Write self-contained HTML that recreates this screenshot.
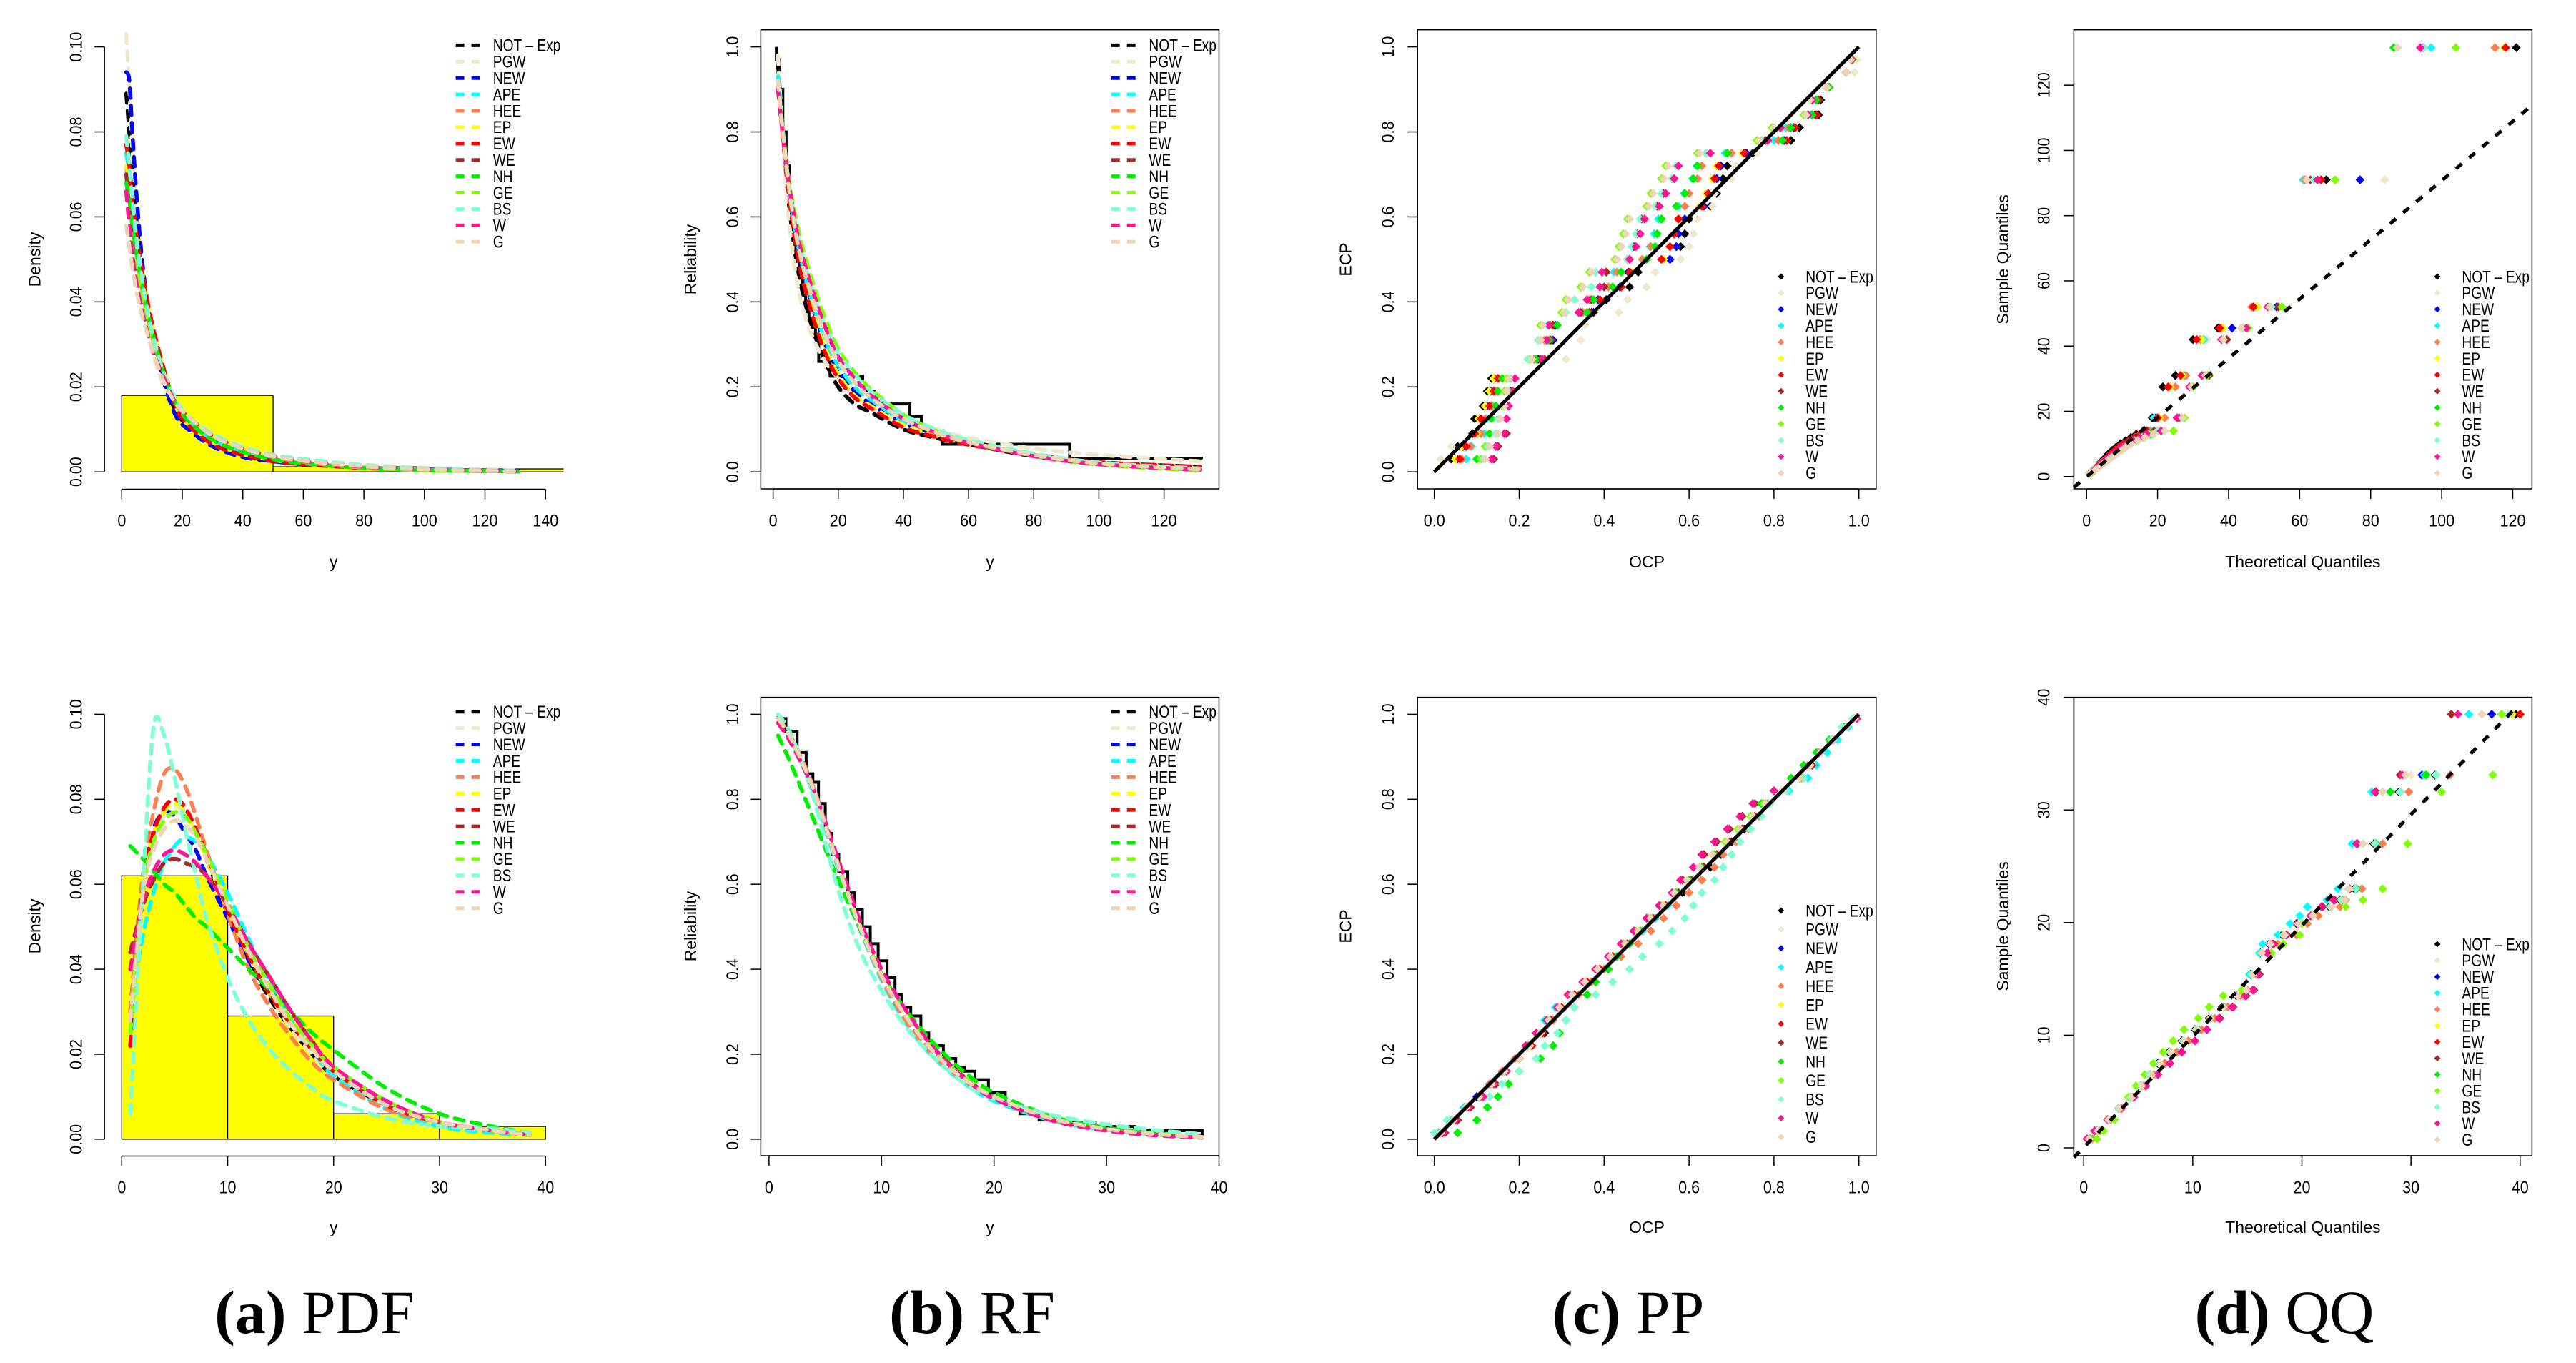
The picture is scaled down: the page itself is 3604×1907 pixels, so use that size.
<!DOCTYPE html>
<html><head><meta charset="utf-8"><title>Fitted distributions</title>
<style>html,body{margin:0;padding:0;background:#fff}svg{display:block}text{font-family:"Liberation Sans",sans-serif}</style>
</head><body>
<svg id="fig" xmlns="http://www.w3.org/2000/svg" width="3604" height="1907" viewBox="0 0 3604 1907">
<defs><clipPath id="clipA"><rect x="147" y="30" width="641.5" height="1650"/></clipPath></defs>
<g id="layer"></g>
<g font-size="86" text-anchor="middle">
<text x="440" y="1865" style="font-family:'Liberation Serif',serif"><tspan font-weight="bold">(a)</tspan> PDF</text>
<text x="1360" y="1865" style="font-family:'Liberation Serif',serif"><tspan font-weight="bold">(b)</tspan> RF</text>
<text x="2278" y="1865" style="font-family:'Liberation Serif',serif"><tspan font-weight="bold">(c)</tspan> PP</text>
<text x="3196" y="1865" style="font-family:'Liberation Serif',serif"><tspan font-weight="bold">(d)</tspan> QQ</text>
</g>
</svg>
<script>
// ---------- shared series info ----------
const seriesNames = ['NOT \u2013 Exp','PGW','NEW','APE','HEE','EP','EW','WE','NH','GE','BS','W','G'];
const seriesColors = ['#000000','#EEE8CD','#0000FF','#00FFFF','#FF7F50','#FFFF00','#FF0000','#A52A2A','#00EE00','#7FFF00','#7FFFD4','#FF1493','#EED5B7'];

// ---------- (a) top: density ----------
const aTopHistEdges = [0,50,100,150];
const aTopHistDensity = [0.018,0.0012,0.0007];
const aTopX = [1.5,2.5,3.5,5,7,10,14,18,22,30,40,50,60,80,100,131];
const aTop_NOT = [0.089,0.08,0.07,0.058,0.046,0.034,0.022,0.014,0.011,0.0065,0.004,0.0025,0.0018,0.001,0.0006,0.0002];
const aTop_PGW = [0.103,0.09,0.075,0.058,0.043,0.029,0.02,0.016,0.013,0.009,0.006,0.004,0.003,0.0017,0.001,0.0004];
const aTop_NEW = [0.094,0.092,0.08,0.064,0.048,0.033,0.021,0.013,0.01,0.006,0.0035,0.0025,0.0018,0.001,0.0006,0.0002];
const aTop_APE = [0.075,0.07,0.062,0.053,0.044,0.033,0.023,0.016,0.012,0.0075,0.0045,0.003,0.002,0.001,0.0005,0.0001];
const aTop_HEE = [0.072,0.066,0.059,0.051,0.042,0.032,0.023,0.016,0.012,0.0075,0.0045,0.003,0.002,0.001,0.0005,0.0001];
const aTop_EP = [0.072,0.069,0.063,0.055,0.046,0.035,0.024,0.016,0.012,0.007,0.0042,0.0028,0.0019,0.0009,0.0004,0.0001];
const aTop_EW = [0.077,0.072,0.064,0.055,0.046,0.035,0.024,0.015,0.011,0.0065,0.004,0.0026,0.0018,0.0009,0.0004,0.0001];
const aTop_WE = [0.07,0.062,0.054,0.046,0.038,0.029,0.022,0.016,0.013,0.0085,0.0055,0.0036,0.0024,0.0011,0.0005,0.0001];
const aTop_NH = [0.068,0.064,0.058,0.051,0.043,0.033,0.023,0.016,0.012,0.0075,0.0047,0.003,0.002,0.0009,0.0004,0.0001];
const aTop_GE = [0.058,0.056,0.052,0.047,0.04,0.031,0.022,0.016,0.013,0.0085,0.0055,0.0036,0.0024,0.001,0.0004,0.0001];
const aTop_BS = [0.079,0.072,0.064,0.054,0.044,0.033,0.023,0.017,0.013,0.009,0.0058,0.004,0.003,0.0016,0.0008,0.0002];
const aTop_W = [0.066,0.058,0.051,0.044,0.037,0.029,0.022,0.016,0.013,0.0085,0.0055,0.0037,0.0025,0.0012,0.0006,0.0001];
const aTop_G = [0.058,0.053,0.048,0.042,0.036,0.029,0.021,0.016,0.013,0.0085,0.0055,0.0037,0.0026,0.0013,0.0006,0.0001];
const aTopXTicks = [0,20,40,60,80,100,120,140];
const aTopYTicks = [0,0.02,0.04,0.06,0.08,0.10];
const aTopYLabels = ['0.00','0.02','0.04','0.06','0.08','0.10'];

// ---------- (a) bottom ----------
const aBotHistEdges = [0,10,20,30,40];
const aBotHistDensity = [0.062,0.029,0.006,0.003];
const aBotX = [0.8,2,3,4,5,6,7,8,10,12,14,16,18,20,25,30,35,38.5];
const aBot_NOT = [0.022,0.06,0.072,0.078,0.08,0.078,0.072,0.066,0.053,0.042,0.033,0.026,0.02,0.015,0.008,0.004,0.002,0.001];
const aBot_PGW = [0.028,0.058,0.07,0.076,0.078,0.077,0.072,0.066,0.054,0.043,0.034,0.026,0.02,0.015,0.008,0.004,0.002,0.001];
const aBot_NEW = [0.03,0.062,0.073,0.077,0.076,0.072,0.068,0.062,0.052,0.042,0.034,0.027,0.021,0.016,0.008,0.004,0.002,0.001];
const aBot_APE = [0.03,0.048,0.058,0.065,0.069,0.071,0.07,0.067,0.058,0.047,0.037,0.028,0.021,0.015,0.007,0.003,0.0015,0.001];
const aBot_HEE = [0.03,0.062,0.077,0.086,0.087,0.083,0.076,0.068,0.053,0.04,0.031,0.024,0.018,0.014,0.007,0.004,0.002,0.001];
const aBot_EP = [0.025,0.06,0.072,0.077,0.079,0.077,0.072,0.066,0.054,0.043,0.034,0.027,0.021,0.016,0.008,0.004,0.002,0.001];
const aBot_EW = [0.022,0.06,0.072,0.078,0.08,0.078,0.073,0.067,0.054,0.043,0.034,0.027,0.021,0.016,0.008,0.004,0.002,0.001];
const aBot_WE = [0.044,0.055,0.061,0.065,0.066,0.065,0.064,0.062,0.055,0.046,0.038,0.03,0.023,0.017,0.008,0.004,0.002,0.001];
const aBot_NH = [0.069,0.066,0.063,0.06,0.058,0.055,0.052,0.05,0.045,0.04,0.035,0.03,0.025,0.021,0.012,0.006,0.003,0.0015];
const aBot_GE = [0.025,0.058,0.07,0.075,0.077,0.076,0.072,0.067,0.056,0.045,0.036,0.028,0.022,0.017,0.009,0.004,0.002,0.001];
const aBot_BS = [0.006,0.06,0.097,0.095,0.085,0.073,0.062,0.052,0.038,0.028,0.021,0.016,0.012,0.009,0.005,0.003,0.0025,0.0015];
const aBot_W = [0.04,0.056,0.063,0.067,0.068,0.067,0.065,0.062,0.055,0.046,0.038,0.03,0.023,0.017,0.009,0.004,0.002,0.001];
const aBot_G = [0.028,0.058,0.068,0.073,0.075,0.074,0.071,0.066,0.055,0.044,0.035,0.027,0.021,0.016,0.008,0.004,0.002,0.001];
const aBotXTicks = [0,10,20,30,40];

// ---------- (b) top: reliability ----------
const bTopX = [1.5,3,5,8,12,16,20,25,30,40,50,60,80,100,131];
const bTop_NOT = [0.96,0.8,0.62,0.46,0.34,0.26,0.2,0.16,0.14,0.1,0.08,0.065,0.037,0.022,0.012];
const bTop_PGW = [0.98,0.78,0.58,0.42,0.32,0.26,0.22,0.18,0.15,0.12,0.1,0.08,0.055,0.04,0.025];
const bTop_NEW = [0.93,0.8,0.65,0.51,0.39,0.3,0.24,0.19,0.16,0.115,0.088,0.067,0.04,0.021,0.007];
const bTop_APE = [0.93,0.8,0.66,0.52,0.4,0.31,0.25,0.2,0.17,0.12,0.09,0.068,0.038,0.018,0.004];
const bTop_HEE = [0.92,0.79,0.64,0.5,0.38,0.29,0.23,0.18,0.155,0.11,0.085,0.065,0.04,0.022,0.01];
const bTop_EP = [0.92,0.79,0.64,0.5,0.38,0.29,0.23,0.18,0.155,0.11,0.085,0.065,0.04,0.022,0.01];
const bTop_EW = [0.92,0.79,0.64,0.49,0.37,0.28,0.22,0.175,0.15,0.105,0.082,0.064,0.04,0.023,0.012];
const bTop_WE = [0.9,0.8,0.68,0.55,0.44,0.35,0.28,0.23,0.19,0.13,0.095,0.07,0.04,0.018,0.004];
const bTop_NH = [0.92,0.8,0.66,0.52,0.41,0.32,0.26,0.21,0.175,0.125,0.092,0.069,0.039,0.019,0.005];
const bTop_GE = [0.9,0.8,0.68,0.56,0.45,0.36,0.29,0.235,0.195,0.135,0.097,0.07,0.038,0.017,0.003];
const bTop_BS = [0.92,0.8,0.67,0.54,0.43,0.34,0.28,0.23,0.19,0.135,0.1,0.075,0.043,0.022,0.008];
const bTop_W = [0.9,0.79,0.67,0.54,0.43,0.34,0.27,0.22,0.18,0.125,0.092,0.068,0.037,0.018,0.005];
const bTop_G = [0.92,0.8,0.66,0.52,0.41,0.32,0.26,0.21,0.175,0.125,0.093,0.07,0.04,0.02,0.006];
const bTopStepX = [1,2,3,4,5,6,7,8,9,10,11,12,13,14,17.5,27.5,31,42,45.5,52,91,131.5];
const bTopStepY = [0.97,0.9,0.8,0.72,0.64,0.57,0.51,0.46,0.42,0.39,0.36,0.34,0.32,0.26,0.225,0.19,0.16,0.13,0.097,0.065,0.032,0.03];
const bTopXTicks = [0,20,40,60,80,100,120];
const bYTicks = [0,0.2,0.4,0.6,0.8,1.0];
const bYLabels = ['0.0','0.2','0.4','0.6','0.8','1.0'];

// ---------- (b) bottom ----------
const bBotX = [0.8,2,4,6,8,10,12,14,16,18,20,25,30,35,38.5];
const bBot_NOT = [0.99,0.94,0.82,0.65,0.5,0.38,0.29,0.22,0.17,0.13,0.1,0.05,0.025,0.012,0.006];
const bBot_PGW = [0.99,0.94,0.82,0.655,0.505,0.385,0.295,0.225,0.17,0.13,0.1,0.05,0.024,0.011,0.005];
const bBot_NEW = [0.99,0.94,0.82,0.655,0.505,0.385,0.295,0.225,0.172,0.13,0.099,0.049,0.024,0.011,0.005];
const bBot_APE = [0.99,0.94,0.81,0.65,0.5,0.375,0.28,0.21,0.16,0.12,0.09,0.045,0.022,0.01,0.005];
const bBot_HEE = [0.99,0.945,0.825,0.66,0.505,0.38,0.285,0.215,0.165,0.126,0.097,0.048,0.024,0.011,0.005];
const bBot_EP = [0.99,0.94,0.82,0.655,0.505,0.385,0.295,0.225,0.17,0.13,0.1,0.05,0.024,0.011,0.005];
const bBot_EW = [0.99,0.94,0.82,0.655,0.505,0.385,0.295,0.225,0.17,0.13,0.1,0.05,0.024,0.011,0.005];
const bBot_WE = [0.98,0.93,0.82,0.67,0.52,0.4,0.31,0.235,0.178,0.133,0.097,0.046,0.021,0.009,0.004];
const bBot_NH = [0.95,0.88,0.75,0.62,0.5,0.39,0.31,0.245,0.19,0.145,0.11,0.055,0.027,0.012,0.005];
const bBot_GE = [0.99,0.94,0.82,0.66,0.51,0.39,0.3,0.23,0.175,0.133,0.1,0.049,0.023,0.01,0.004];
const bBot_BS = [1.0,0.95,0.8,0.6,0.45,0.35,0.27,0.21,0.16,0.12,0.095,0.058,0.035,0.02,0.012];
const bBot_W = [0.98,0.93,0.82,0.67,0.52,0.4,0.31,0.235,0.175,0.13,0.095,0.045,0.02,0.008,0.004];
const bBot_G = [0.99,0.94,0.82,0.655,0.505,0.385,0.295,0.225,0.17,0.13,0.1,0.05,0.024,0.011,0.005];
const bBotStepX = [0.8,1.5,2.5,3.3,3.9,4.4,5,5.6,6.2,7,7.6,8.3,9,9.7,10.5,11.2,11.8,12.6,13.5,14.2,15.5,16.6,17.4,18.3,19.5,21,22.3,24,26.5,29,32.5,38.5];
const bBotStepY = [0.99,0.96,0.91,0.86,0.84,0.79,0.72,0.67,0.63,0.58,0.54,0.5,0.46,0.42,0.38,0.34,0.31,0.29,0.25,0.22,0.19,0.17,0.16,0.14,0.11,0.08,0.06,0.045,0.04,0.03,0.02,0.01];
const bBotXTicks = [0,10,20,30,40];

// ---------- (c) top: PP ----------
const cTopECP = [0.03,0.06,0.09,0.125,0.155,0.19,0.22,0.265,0.31,0.345,0.375,0.405,0.435,0.47,0.5,0.53,0.56,0.595,0.625,0.655,0.69,0.72,0.75,0.78,0.81,0.84,0.875,0.905,0.94,0.97];
const cTop_NOT = [0.04,0.055,0.09,0.095,0.115,0.125,0.135,0.245,0.275,0.285,0.375,0.405,0.46,0.48,0.555,0.58,0.59,0.6,0.65,0.665,0.68,0.69,0.75,0.84,0.86,0.905,0.91,0.93,0.97,0.985];
const cTop_PGW = [0.015,0.04,0.11,0.15,0.16,0.17,0.18,0.31,0.345,0.355,0.435,0.455,0.5,0.52,0.58,0.6,0.61,0.62,0.655,0.66,0.7,0.71,0.76,0.8,0.82,0.87,0.89,0.92,0.99,0.995];
const cTop_NEW = [0.054,0.068,0.101,0.106,0.124,0.133,0.142,0.25,0.28,0.285,0.37,0.386,0.437,0.457,0.555,0.57,0.575,0.59,0.635,0.645,0.665,0.675,0.735,0.824,0.847,0.898,0.905,0.929,0.97,0.984];
const cTop_APE = [0.075,0.088,0.118,0.123,0.138,0.17,0.19,0.235,0.26,0.268,0.345,0.375,0.42,0.423,0.49,0.508,0.518,0.528,0.575,0.588,0.608,0.618,0.685,0.8,0.828,0.888,0.898,0.928,0.97,0.983];
const cTop_HEE = [0.065,0.085,0.11,0.12,0.135,0.145,0.15,0.235,0.26,0.27,0.35,0.365,0.41,0.43,0.49,0.51,0.525,0.535,0.59,0.6,0.62,0.63,0.7,0.81,0.835,0.89,0.9,0.93,0.97,0.985];
const cTop_EP = [0.05,0.065,0.1,0.105,0.12,0.13,0.14,0.24,0.265,0.275,0.36,0.39,0.44,0.465,0.54,0.555,0.565,0.575,0.625,0.64,0.655,0.665,0.725,0.83,0.85,0.9,0.905,0.93,0.97,0.984];
const cTop_EW = [0.06,0.075,0.095,0.11,0.13,0.14,0.15,0.26,0.27,0.28,0.365,0.39,0.44,0.46,0.535,0.555,0.565,0.575,0.63,0.645,0.66,0.67,0.73,0.83,0.85,0.9,0.905,0.93,0.97,0.984];
const cTop_WE = [0.14,0.15,0.17,0.17,0.175,0.18,0.18,0.25,0.275,0.28,0.345,0.37,0.4,0.405,0.455,0.47,0.478,0.488,0.525,0.54,0.56,0.57,0.64,0.78,0.815,0.88,0.89,0.925,0.97,0.982];
const cTop_NH = [0.1,0.12,0.13,0.135,0.145,0.15,0.16,0.24,0.27,0.29,0.36,0.375,0.42,0.44,0.5,0.52,0.525,0.535,0.57,0.59,0.61,0.62,0.69,0.82,0.84,0.89,0.9,0.93,0.97,0.984];
const cTop_GE = [0.11,0.12,0.145,0.15,0.16,0.165,0.17,0.225,0.245,0.25,0.3,0.31,0.345,0.365,0.425,0.435,0.445,0.455,0.5,0.51,0.535,0.545,0.62,0.76,0.795,0.87,0.885,0.925,0.97,0.98];
const cTop_BS = [0.115,0.125,0.145,0.15,0.165,0.175,0.18,0.22,0.245,0.255,0.31,0.33,0.37,0.38,0.455,0.465,0.475,0.485,0.52,0.535,0.56,0.57,0.64,0.77,0.8,0.875,0.89,0.925,0.97,0.982];
const cTop_W = [0.135,0.145,0.165,0.17,0.175,0.185,0.19,0.255,0.265,0.27,0.34,0.36,0.39,0.395,0.46,0.475,0.485,0.495,0.53,0.545,0.565,0.575,0.65,0.785,0.815,0.88,0.89,0.925,0.97,0.982];
const cTop_G = [0.12,0.13,0.15,0.155,0.165,0.17,0.175,0.23,0.25,0.255,0.305,0.315,0.35,0.37,0.43,0.44,0.45,0.46,0.505,0.515,0.54,0.55,0.625,0.765,0.8,0.875,0.885,0.925,0.97,0.98];
const cXTicks = [0,0.2,0.4,0.6,0.8,1.0];
const cXLabels = ['0.0','0.2','0.4','0.6','0.8','1.0'];

// ---------- (c) bottom ----------
const cBotECP = [0.015,0.045,0.075,0.1,0.13,0.16,0.19,0.22,0.25,0.28,0.31,0.34,0.37,0.4,0.43,0.46,0.49,0.52,0.55,0.58,0.61,0.64,0.67,0.7,0.73,0.76,0.79,0.82,0.85,0.88,0.91,0.94,0.97,0.99];
const cBot_NOT = [0.01,0.04,0.07,0.1,0.13,0.16,0.2,0.23,0.26,0.275,0.3,0.33,0.36,0.39,0.42,0.46,0.49,0.52,0.545,0.585,0.63,0.65,0.675,0.7,0.73,0.755,0.775,0.82,0.865,0.89,0.905,0.935,0.965,0.99];
const cBot_PGW = [0.01,0.04,0.075,0.105,0.135,0.165,0.2,0.225,0.25,0.27,0.295,0.33,0.36,0.385,0.42,0.45,0.48,0.51,0.54,0.57,0.6,0.63,0.66,0.69,0.72,0.75,0.78,0.82,0.86,0.885,0.91,0.94,0.97,0.99];
const cBot_NEW = [0.01,0.04,0.07,0.1,0.13,0.165,0.2,0.23,0.255,0.275,0.3,0.33,0.36,0.39,0.42,0.455,0.485,0.515,0.545,0.575,0.605,0.635,0.665,0.695,0.725,0.755,0.78,0.82,0.865,0.89,0.91,0.94,0.97,0.99];
const cBot_APE = [0.01,0.04,0.07,0.11,0.14,0.17,0.2,0.22,0.24,0.26,0.285,0.32,0.35,0.385,0.42,0.455,0.49,0.52,0.55,0.575,0.6,0.63,0.66,0.69,0.72,0.755,0.79,0.835,0.88,0.9,0.925,0.95,0.975,0.995];
const cBot_HEE = [0.02,0.05,0.08,0.11,0.13,0.16,0.19,0.22,0.25,0.28,0.3,0.34,0.37,0.4,0.44,0.48,0.51,0.54,0.57,0.6,0.63,0.66,0.68,0.71,0.74,0.765,0.785,0.82,0.86,0.88,0.905,0.935,0.965,0.99];
const cBot_EP = [0.015,0.045,0.075,0.105,0.135,0.165,0.2,0.23,0.255,0.275,0.3,0.33,0.36,0.39,0.42,0.455,0.485,0.515,0.545,0.575,0.605,0.635,0.665,0.695,0.725,0.755,0.78,0.82,0.865,0.89,0.91,0.94,0.97,0.99];
const cBot_EW = [0.015,0.045,0.075,0.105,0.135,0.165,0.2,0.23,0.255,0.275,0.3,0.33,0.36,0.39,0.42,0.455,0.485,0.515,0.545,0.575,0.605,0.635,0.665,0.695,0.725,0.755,0.78,0.82,0.865,0.89,0.91,0.94,0.97,0.99];
const cBot_WE = [0.025,0.055,0.085,0.115,0.145,0.17,0.2,0.215,0.24,0.265,0.29,0.315,0.35,0.38,0.41,0.44,0.47,0.5,0.53,0.56,0.585,0.61,0.635,0.665,0.695,0.725,0.755,0.8,0.86,0.885,0.91,0.94,0.97,0.995];
const cBot_NH = [0.055,0.1,0.125,0.15,0.175,0.2,0.25,0.28,0.295,0.31,0.33,0.36,0.38,0.41,0.43,0.46,0.485,0.51,0.54,0.57,0.6,0.63,0.66,0.69,0.72,0.745,0.77,0.8,0.84,0.87,0.9,0.93,0.965,0.99];
const cBot_GE = [0.015,0.045,0.075,0.105,0.135,0.165,0.2,0.225,0.25,0.27,0.295,0.325,0.355,0.385,0.415,0.445,0.475,0.505,0.535,0.565,0.595,0.625,0.655,0.685,0.715,0.745,0.775,0.82,0.865,0.885,0.91,0.94,0.97,0.99];
const cBot_BS = [0.0,0.03,0.08,0.13,0.16,0.2,0.24,0.26,0.29,0.31,0.33,0.38,0.42,0.46,0.49,0.53,0.56,0.59,0.61,0.63,0.66,0.68,0.7,0.72,0.745,0.77,0.79,0.83,0.87,0.885,0.91,0.935,0.96,0.985];
const cBot_W = [0.02,0.05,0.08,0.115,0.14,0.17,0.2,0.215,0.24,0.265,0.29,0.315,0.35,0.38,0.41,0.44,0.47,0.5,0.53,0.56,0.58,0.61,0.63,0.66,0.69,0.72,0.75,0.8,0.86,0.885,0.91,0.94,0.97,0.995];
const cBot_G = [0.015,0.045,0.075,0.105,0.135,0.165,0.2,0.225,0.25,0.27,0.295,0.325,0.355,0.385,0.415,0.45,0.48,0.51,0.54,0.565,0.595,0.625,0.655,0.69,0.72,0.75,0.78,0.82,0.86,0.885,0.91,0.94,0.97,0.99];

// ---------- (d) top: QQ ----------
const dTopSample = [1,2,3,4,5,6,7,8,9,10,11,12,13,14,18,27.5,31,42,45.5,52,91,131.5];
const dTop_NOT = [1,1.8,2.8,3.6,4.5,5.5,6.2,7.2,8.3,9.5,11,12.5,14,16,18.5,21.5,25,30,37,48,67.5,121];
const dTop_PGW = [0.5,1.5,2.7,3.8,5,6,7.5,8.5,9.5,10.5,12,13.5,15,17.5,26,29.5,33,34,44,57,84,87.5];
const dTop_NEW = [1,2,3,4,5,6,7,8,9.3,10.5,12,13.5,15,17,19.5,23.5,27.5,33,41,53.5,77,94.5];
const dTop_APE = [1,2,3,4,5,6,7,8.5,9.5,11,12.5,14,15.5,18,19,23,27.5,33,38,47,61,97];
const dTop_HEE = [1,2,3,4,5,6,7,8.5,9.5,11,12.5,14,15.5,17.5,22,25,28,32,38,46.5,61.5,115];
const dTop_EP = [1,2,3,4,5,6,7,8,9,10.5,12,13.5,15,17,20.5,23.5,27,32.5,38.5,48,66,117.5];
const dTop_EW = [1,2,3,4,5,6,7,8,9,10.5,12,13.5,15,17,20,23,26.5,31,37.5,47,66,118];
const dTop_WE = [1,2.5,3.5,4.5,5.5,6.5,7.5,9,10,11.5,13,14.5,16.5,19,26,30,34.5,39.5,45.5,54,63,95];
const dTop_NH = [1.2,2.5,3.5,4.5,5.5,6.5,8,9,10.5,12,13.5,15.5,18,21,27.5,30,34,38.5,45.5,55,70,86.5];
const dTop_GE = [1.2,2.5,3.5,4.8,6,7.2,8.5,9.8,11,12.5,14,16,18.5,24.5,27.5,30,34,38.5,45.5,55,70,104];
const dTop_BS = [1,2,3.5,4.5,5.5,6.5,8,9,10.5,12,13.5,15.5,17.5,20,25.5,29,33,38,44,52,64,95];
const dTop_W = [1,2.2,3.3,4.3,5.3,6.4,7.6,8.8,10,11.5,13,15,17,21,25.5,29,32.5,38,45,51,65,94];
const dTop_G = [1,2.5,3.7,4.8,6,7.2,8.5,9.8,11,12.5,14.5,16.5,19,22,27,29.5,33.5,38.5,43.5,51.5,62,87.5];
const dTopLine = [0.908,-0.05]; // slope, intercept of reference line
const dTopXTicks = [0,20,40,60,80,100,120];
const dTopYTicks = [0,20,40,60,80,100,120];

// ---------- (d) bottom ----------
const dBotSample = [0.8,1.5,2.5,3.5,4.5,5.5,6.5,7.5,8.5,9.5,10.5,11.5,12.5,13.5,14,15.4,17.3,18.1,18.9,19.9,20.6,21.4,22,23,27,31.6,33.1,38.5];
const dBot_NOT = [0.5,1.2,2.2,3.2,4.3,5.2,6,6.8,7.8,9,10.2,11.5,12.7,14,14.8,15.3,16.2,17,18.2,19.5,20.8,22.5,23.5,24.8,26.6,28.9,32.2,39.6];
const dBot_PGW = [0.6,1.3,2.3,3.3,4.4,5.3,6.2,7,8,9.2,10.4,11.6,12.8,14.1,14.9,15.5,16.3,17.1,18.4,19.7,21,22.7,23.9,24.3,25.6,27.4,30,36.5];
const dBot_NEW = [0.5,1.2,2.2,3.2,4.3,5.3,6.1,6.9,7.9,9.1,10.3,11.6,12.8,14.1,14.9,15.4,16.2,17,18.3,19.6,20.9,22.6,23.7,24.9,26.8,29,31,37.4];
const dBot_APE = [0.3,1,2.2,3.3,4.5,5.5,6.5,7.5,8.6,9.6,10.6,11.7,12.9,14.1,15,15.2,16.1,16.4,17.8,18.9,19.8,20.5,22.3,23.3,24.6,26.4,31.2,35.3];
const dBot_HEE = [0.8,1.5,2.5,3.5,4.5,5.5,6.4,7.4,8.5,9.6,10.8,12,13.2,14.4,15,15.8,16.8,17.8,19.5,20.5,21.5,23.5,24,25.5,27.4,29.8,33.6,40];
const dBot_EP = [0.5,1.2,2.2,3.2,4.3,5.2,6,6.9,7.9,9.1,10.3,11.6,12.8,14.1,14.9,15.4,16.3,17.1,18.3,19.6,20.9,22.6,23.6,24.9,26.7,29,32.3,39.3];
const dBot_EW = [0.5,1.2,2.2,3.2,4.3,5.2,6,6.9,7.9,9.1,10.3,11.6,12.8,14.1,14.9,15.4,16.3,17.1,18.3,19.6,20.9,22.6,23.6,24.9,26.7,29,32.3,40];
const dBot_WE = [0.3,1,2.2,3.4,4.6,5.7,6.8,7.9,9,10.2,11.3,12.5,13.7,14.9,15.6,16.1,16.9,17.4,18.6,19.7,20.9,21.9,23,24.4,25.1,26.8,29,33.7];
const dBot_NH = [0.6,1.3,2.3,3.3,4.4,5.3,6.1,7,8,9.1,10.3,11.6,12.8,14.1,14.9,15.4,16.3,17.1,18.3,19.6,21,22.6,23.7,25,26.8,28.1,31.4,38.3];
const dBot_GE = [1.2,1.8,2.8,3.4,4.1,4.8,5.6,6.4,7.3,8.2,9.2,10.5,11.5,12.8,14.5,16,17.2,18.3,19.8,20,20.8,24,25.6,27.4,29.7,32.8,37.5,38.3];
const dBot_BS = [0.5,1.2,2.2,3.2,4.3,5.2,6,6.9,7.9,9.1,10.3,11.6,12.8,14.1,14.9,15.4,16.3,17.1,18.3,19.6,20.9,22.6,23.6,24.9,26.7,29,32.3,39];
const dBot_W = [0.3,1,2.2,3.4,4.6,5.7,6.8,7.9,9,10.2,11.3,12.4,13.6,14.8,15.5,16,16.8,17.3,18.5,19.6,20.8,21.8,22.9,24.3,25,26.7,29.2,34.3];
const dBot_G = [0.5,1.3,2.3,3.3,4.4,5.3,6.2,7,8,9.2,10.4,11.6,12.8,14.1,14.9,15.5,16.3,17.1,18.4,19.7,21,22.7,23.9,24.3,25.6,27.4,29.5,36.5];
const dBotLine = [0.985,0.05];
const dBotXTicks = [0,10,20,30,40];
const dBotYTicks = [0,10,20,30,40];

// ---------- series groupings (references to arrays above) ----------
const aTopSeries = [aTop_NOT,aTop_PGW,aTop_NEW,aTop_APE,aTop_HEE,aTop_EP,aTop_EW,aTop_WE,aTop_NH,aTop_GE,aTop_BS,aTop_W,aTop_G];
const aBotSeries = [aBot_NOT,aBot_PGW,aBot_NEW,aBot_APE,aBot_HEE,aBot_EP,aBot_EW,aBot_WE,aBot_NH,aBot_GE,aBot_BS,aBot_W,aBot_G];
const bTopSeries = [bTop_NOT,bTop_PGW,bTop_NEW,bTop_APE,bTop_HEE,bTop_EP,bTop_EW,bTop_WE,bTop_NH,bTop_GE,bTop_BS,bTop_W,bTop_G];
const bBotSeries = [bBot_NOT,bBot_PGW,bBot_NEW,bBot_APE,bBot_HEE,bBot_EP,bBot_EW,bBot_WE,bBot_NH,bBot_GE,bBot_BS,bBot_W,bBot_G];
const cTopSeries = [cTop_NOT,cTop_PGW,cTop_NEW,cTop_APE,cTop_HEE,cTop_EP,cTop_EW,cTop_WE,cTop_NH,cTop_GE,cTop_BS,cTop_W,cTop_G];
const cBotSeries = [cBot_NOT,cBot_PGW,cBot_NEW,cBot_APE,cBot_HEE,cBot_EP,cBot_EW,cBot_WE,cBot_NH,cBot_GE,cBot_BS,cBot_W,cBot_G];
const dTopSeries = [dTop_NOT,dTop_PGW,dTop_NEW,dTop_APE,dTop_HEE,dTop_EP,dTop_EW,dTop_WE,dTop_NH,dTop_GE,dTop_BS,dTop_W,dTop_G];
const dBotSeries = [dBot_NOT,dBot_PGW,dBot_NEW,dBot_APE,dBot_HEE,dBot_EP,dBot_EW,dBot_WE,dBot_NH,dBot_GE,dBot_BS,dBot_W,dBot_G];

// ---------- rendering ----------
const NS = 'http://www.w3.org/2000/svg';
const root = document.getElementById('layer');
function mk(tag, attrs, parent) {
  const el = document.createElementNS(NS, tag);
  for (const k in attrs) el.setAttribute(k, attrs[k]);
  (parent || root).appendChild(el);
  return el;
}
function lin(d0, d1, p0, p1) { return v => p0 + (v - d0) * (p1 - p0) / (d1 - d0); }
function txt(parent, s, x, y, size, rot, anchor, sx) {
  const t = mk('text', {transform: `translate(${x},${y}) rotate(${rot||0}) scale(${sx||1},1)`, 'font-size': size, 'text-anchor': anchor || 'middle', 'dominant-baseline': 'central', fill: '#000'}, parent);
  t.textContent = s;
  return t;
}
function smoothPath(pts) {
  let d = `M${pts[0][0]},${pts[0][1]}`;
  for (let i = 0; i < pts.length - 1; i++) {
    const p0 = pts[Math.max(0, i - 1)], p1 = pts[i], p2 = pts[i + 1], p3 = pts[Math.min(pts.length - 1, i + 2)];
    const c1x = p1[0] + (p2[0] - p0[0]) / 6, c1y = p1[1] + (p2[1] - p0[1]) / 6;
    const c2x = p2[0] - (p3[0] - p1[0]) / 6, c2y = p2[1] - (p3[1] - p1[1]) / 6;
    d += ` C${c1x},${c1y} ${c2x},${c2y} ${p2[0]},${p2[1]}`;
  }
  return d;
}
function diamond(cx, cy, r) { return `M${cx},${cy - r}L${cx + r},${cy}L${cx},${cy + r}L${cx - r},${cy}Z`; }

function panel(name, cfg) {
  const g = mk('g', {});
  
  
  const sx = lin(cfg.dx0, cfg.dx1, cfg.px0, cfg.px1);
  const sy = lin(cfg.dy0, cfg.dy1, cfg.py0, cfg.py1);
  return {g, sx, sy};
}

function axes(p, cfg) {
  const ax = mk('g', {stroke: '#000', 'stroke-width': 1.5, fill: 'none'}, p.g);
  
  
  if (cfg.box) {
    const b = mk('rect', {x: cfg.box[0], y: cfg.box[1], width: cfg.box[2] - cfg.box[0], height: cfg.box[3] - cfg.box[1]}, ax);
    
    
  }
  const xa = cfg.xAxisY, ya = cfg.yAxisX;
  const xt = cfg.xTicks, yt = cfg.yTicks;
  const xl = mk('line', {x1: p.sx(xt[0]), x2: p.sx(xt[xt.length - 1]), y1: xa, y2: xa}, ax);
  
  
  const yl = mk('line', {x1: ya, x2: ya, y1: p.sy(yt[0]), y2: p.sy(yt[yt.length - 1])}, ax);
  
  
  const lab = mk('g', {}, p.g);
  
  
  xt.forEach((v, i) => {
    const tk = mk('line', {x1: p.sx(v), x2: p.sx(v), y1: xa, y2: xa + 14}, ax);
    
    
    const t = txt(lab, cfg.xLabels ? cfg.xLabels[i] : String(v), p.sx(v), cfg.xLabelY, 24.5, 0, 'middle', 0.88);
    
    
  });
  yt.forEach((v, i) => {
    const tk = mk('line', {x1: ya, x2: ya - 14, y1: p.sy(v), y2: p.sy(v)}, ax);
    
    
    const t = txt(lab, cfg.yLabels ? cfg.yLabels[i] : String(v), cfg.yLabelX, p.sy(v), 24.5, -90, 'middle', 0.88);
    
    
  });
  const xt2 = txt(p.g, cfg.xTitle, (cfg.box ? (cfg.box[0] + cfg.box[2]) / 2 : (p.sx(xt[0]) + cfg.clipR) / 2), cfg.xTitleY, 23, 0, 'middle', 1);
  
  
  const yt2 = txt(p.g, cfg.yTitle, cfg.yTitleX, cfg.yTitleCY, 23, -90, 'middle', 1);
  
  
}

function legend(p, x, y0, dy, kind, textX) {
  const lg = mk('g', {}, p.g);
  
  
  seriesNames.forEach((n, i) => {
    const y = y0 + i * dy;
    const e = mk('g', {}, lg);
    
    
    if (kind === 'line') {
      const l = mk('line', {x1: x, x2: x + 34, y1: y, y2: y, stroke: seriesColors[i], 'stroke-width': 5, 'stroke-dasharray': '12 10'}, e);
      
      
    } else {
      const m = mk('path', {d: diamond(x, y, 4.5), fill: seriesColors[i]}, e);
      
      
    }
    const t = txt(e, n, textX, y, 24, 0, 'start', 0.8);
    
    
  });
}

function hist(p, edges, dens) {
  const hg = mk('g', {'clip-path': 'url(#clipA)'}, p.g);
  
  
  dens.forEach((d, i) => {
    const x0 = p.sx(edges[i]), x1 = p.sx(edges[i + 1]);
    const r = mk('rect', {x: x0, y: p.sy(d), width: x1 - x0, height: p.sy(0) - p.sy(d), fill: '#FFFF00', stroke: '#000', 'stroke-width': 1.3}, hg);
    
    
  });
}

function curves(p, xs, series) {
  series.forEach((ys, i) => {
    const pts = xs.map((x, j) => [p.sx(x), p.sy(ys[j])]);
    const c = mk('path', {d: smoothPath(pts), fill: 'none', stroke: seriesColors[i], 'stroke-width': 5.5, 'stroke-dasharray': '13 11', 'stroke-linecap': 'round'}, p.g);
    
    
  });
}

function steps(p, xs, ys) {
  let d = `M${p.sx(xs[0])},${p.sy(1)}`;
  xs.forEach((x, i) => {
    d += `L${p.sx(x)},${i === 0 ? p.sy(1) : p.sy(ys[i - 1])}L${p.sx(x)},${p.sy(ys[i])}`;
    if (i < xs.length - 1) d += `L${p.sx(xs[i + 1])},${p.sy(ys[i])}`;
  });
  const s = mk('path', {d, fill: 'none', stroke: '#000', 'stroke-width': 4}, p.g);
  
  
}

function points(p, series, fixed, fixedIsY) {
  series.forEach((vals, i) => {
    const sg = mk('g', {fill: seriesColors[i]}, p.g);
    
    
    vals.forEach((v, j) => {
      const cx = fixedIsY ? p.sx(v) : p.sx(fixed[j]);
      const cy = fixedIsY ? p.sy(fixed[j]) : p.sy(v);
      const m = mk('path', {d: diamond(cx, cy, 6.3)}, sg);
      
      
    });
  });
}

function refLine(p, x0, x1, slope, icpt, dashed, name) {
  const l = mk('line', {x1: p.sx(x0), y1: p.sy(slope * x0 + icpt), x2: p.sx(x1), y2: p.sy(slope * x1 + icpt), stroke: '#000', 'stroke-width': 5, 'stroke-dasharray': dashed ? '11 13' : 'none'}, p.g);
  
  
}

// row geometry
const TOP = {y0: 660.2, y1: 65.6, boxT: 41.7, boxB: 684, axisY: 684.5, tickLab: 728, title: 786, mid: 363, leg: 63.4, legDy: 22.9, pLeg: 387, pLegDy: 22.9};
const BOT = {y0: 1593.9, y1: 999.4, boxT: 975.6, boxB: 1617, axisY: 1617.5, tickLab: 1661, title: 1717, mid: 1296, leg: 995.8, legDy: 22.9};

// ----- Panel (a) top -----
let P = panel('pdf-top', {dx0: 0, dx1: 140, px0: 170.3, px1: 763.2, dy0: 0, dy1: 0.1, py0: TOP.y0, py1: TOP.y1});
hist(P, aTopHistEdges, aTopHistDensity);
curves(P, aTopX, aTopSeries);
axes(P, {xAxisY: TOP.axisY, yAxisX: 146.2, xTicks: aTopXTicks, yTicks: aTopYTicks, yLabels: aTopYLabels, xLabelY: TOP.tickLab, yLabelX: 106, xTitle: 'y', xTitleY: TOP.title, yTitle: 'Density', yTitleX: 48.7, yTitleCY: TOP.mid, clipR: 763.2});
legend(P, 637.6, TOP.leg, TOP.legDy, 'line', 689.8);

// ----- Panel (a) bottom -----
P = panel('pdf-bottom', {dx0: 0, dx1: 40, px0: 170.3, px1: 763.2, dy0: 0, dy1: 0.1, py0: BOT.y0, py1: BOT.y1});
hist(P, aBotHistEdges, aBotHistDensity);
curves(P, aBotX, aBotSeries);
axes(P, {xAxisY: BOT.axisY, yAxisX: 146.2, xTicks: aBotXTicks, yTicks: aTopYTicks, yLabels: aTopYLabels, xLabelY: BOT.tickLab, yLabelX: 106, xTitle: 'y', xTitleY: BOT.title, yTitle: 'Density', yTitleX: 48.7, yTitleCY: BOT.mid, clipR: 763.2});
legend(P, 637.6, BOT.leg, BOT.legDy, 'line', 689.8);

// ----- Panel (b) top -----
P = panel('rf-top', {dx0: 0, dx1: 120, px0: 1081.6, px1: 1628.6, dy0: 0, dy1: 1, py0: TOP.y0, py1: TOP.y1});
steps(P, bTopStepX, bTopStepY);
curves(P, bTopX, bTopSeries);
axes(P, {box: [1064.4, TOP.boxT, 1705.5, TOP.boxB], xAxisY: TOP.boxB, yAxisX: 1064.4, xTicks: bTopXTicks, yTicks: bYTicks, yLabels: bYLabels, xLabelY: TOP.tickLab, yLabelX: 1024.3, xTitle: 'y', xTitleY: TOP.title, yTitle: 'Reliability', yTitleX: 965.8, yTitleCY: TOP.mid});
legend(P, 1554.7, TOP.leg, TOP.legDy, 'line', 1607.4);

// ----- Panel (b) bottom -----
P = panel('rf-bottom', {dx0: 0, dx1: 40, px0: 1075.9, px1: 1705.5, dy0: 0, dy1: 1, py0: BOT.y0, py1: BOT.y1});
steps(P, bBotStepX, bBotStepY);
curves(P, bBotX, bBotSeries);
axes(P, {box: [1064.4, BOT.boxT, 1705.5, BOT.boxB], xAxisY: BOT.boxB, yAxisX: 1064.4, xTicks: bBotXTicks, yTicks: bYTicks, yLabels: bYLabels, xLabelY: BOT.tickLab, yLabelX: 1024.3, xTitle: 'y', xTitleY: BOT.title, yTitle: 'Reliability', yTitleX: 965.8, yTitleCY: BOT.mid});
legend(P, 1554.7, BOT.leg, BOT.legDy, 'line', 1607.4);

// ----- Panel (c) top -----
P = panel('pp-top', {dx0: 0, dx1: 1, px0: 2006.7, px1: 2600.7, dy0: 0, dy1: 1, py0: TOP.y0, py1: TOP.y1});
points(P, cTopSeries, cTopECP, true);
refLine(P, 0, 1, 1, 0, false, 'reference-line');
axes(P, {box: [1983.2, TOP.boxT, 2624.8, TOP.boxB], xAxisY: TOP.boxB, yAxisX: 1983.2, xTicks: cXTicks, xLabels: cXLabels, yTicks: cXTicks, yLabels: cXLabels, xLabelY: TOP.tickLab, yLabelX: 1941.3, xTitle: 'OCP', xTitleY: TOP.title, yTitle: 'ECP', yTitleX: 1882.3, yTitleCY: TOP.mid});
legend(P, 2491.8, TOP.pLeg, TOP.pLegDy, 'point', 2526.2);

// ----- Panel (c) bottom -----
P = panel('pp-bottom', {dx0: 0, dx1: 1, px0: 2006.7, px1: 2600.7, dy0: 0, dy1: 1, py0: BOT.y0, py1: BOT.y1});
points(P, cBotSeries, cBotECP, true);
refLine(P, 0, 1, 1, 0, false, 'reference-line');
axes(P, {box: [1983.2, BOT.boxT, 2624.8, BOT.boxB], xAxisY: BOT.boxB, yAxisX: 1983.2, xTicks: cXTicks, xLabels: cXLabels, yTicks: cXTicks, yLabels: cXLabels, xLabelY: BOT.tickLab, yLabelX: 1941.3, xTitle: 'OCP', xTitleY: BOT.title, yTitle: 'ECP', yTitleX: 1882.3, yTitleCY: BOT.mid});
legend(P, 2491.8, 1274, 26.4, 'point', 2526.2);

// ----- Panel (d) top -----
P = panel('qq-top', {dx0: 0, dx1: 120, px0: 2919.2, px1: 3515.5, dy0: 0, dy1: 120, py0: 666.7, py1: 119.2});
points(P, dTopSeries, dTopSample, true);
refLine(P, -3.6, 125.4, dTopLine[0], dTopLine[1], true, 'reference-line');
axes(P, {box: [2901.4, TOP.boxT, 3542.4, TOP.boxB], xAxisY: TOP.boxB, yAxisX: 2901.4, xTicks: dTopXTicks, yTicks: dTopYTicks, xLabelY: TOP.tickLab, yLabelX: 2859, xTitle: 'Theoretical Quantiles', xTitleY: TOP.title, yTitle: 'Sample Quantiles', yTitleX: 2802.2, yTitleCY: TOP.mid});
legend(P, 3410, TOP.pLeg, TOP.pLegDy, 'point', 3444.4);

// ----- Panel (d) bottom -----
P = panel('qq-bottom', {dx0: 0, dx1: 40, px0: 2915.2, px1: 3525.8, dy0: 0, dy1: 40, py0: 1606, py1: 975.6});
points(P, dBotSeries, dBotSample, true);
refLine(P, -0.9, 39.5, dBotLine[0], dBotLine[1], true, 'reference-line');
axes(P, {box: [2901.4, BOT.boxT, 3542.4, BOT.boxB], xAxisY: BOT.boxB, yAxisX: 2901.4, xTicks: dBotXTicks, yTicks: dBotYTicks, xLabelY: BOT.tickLab, yLabelX: 2859, xTitle: 'Theoretical Quantiles', xTitleY: BOT.title, yTitle: 'Sample Quantiles', yTitleX: 2802.2, yTitleCY: BOT.mid});
legend(P, 3410, 1321, 22.8, 'point', 3444.4);
</script>
</body></html>
